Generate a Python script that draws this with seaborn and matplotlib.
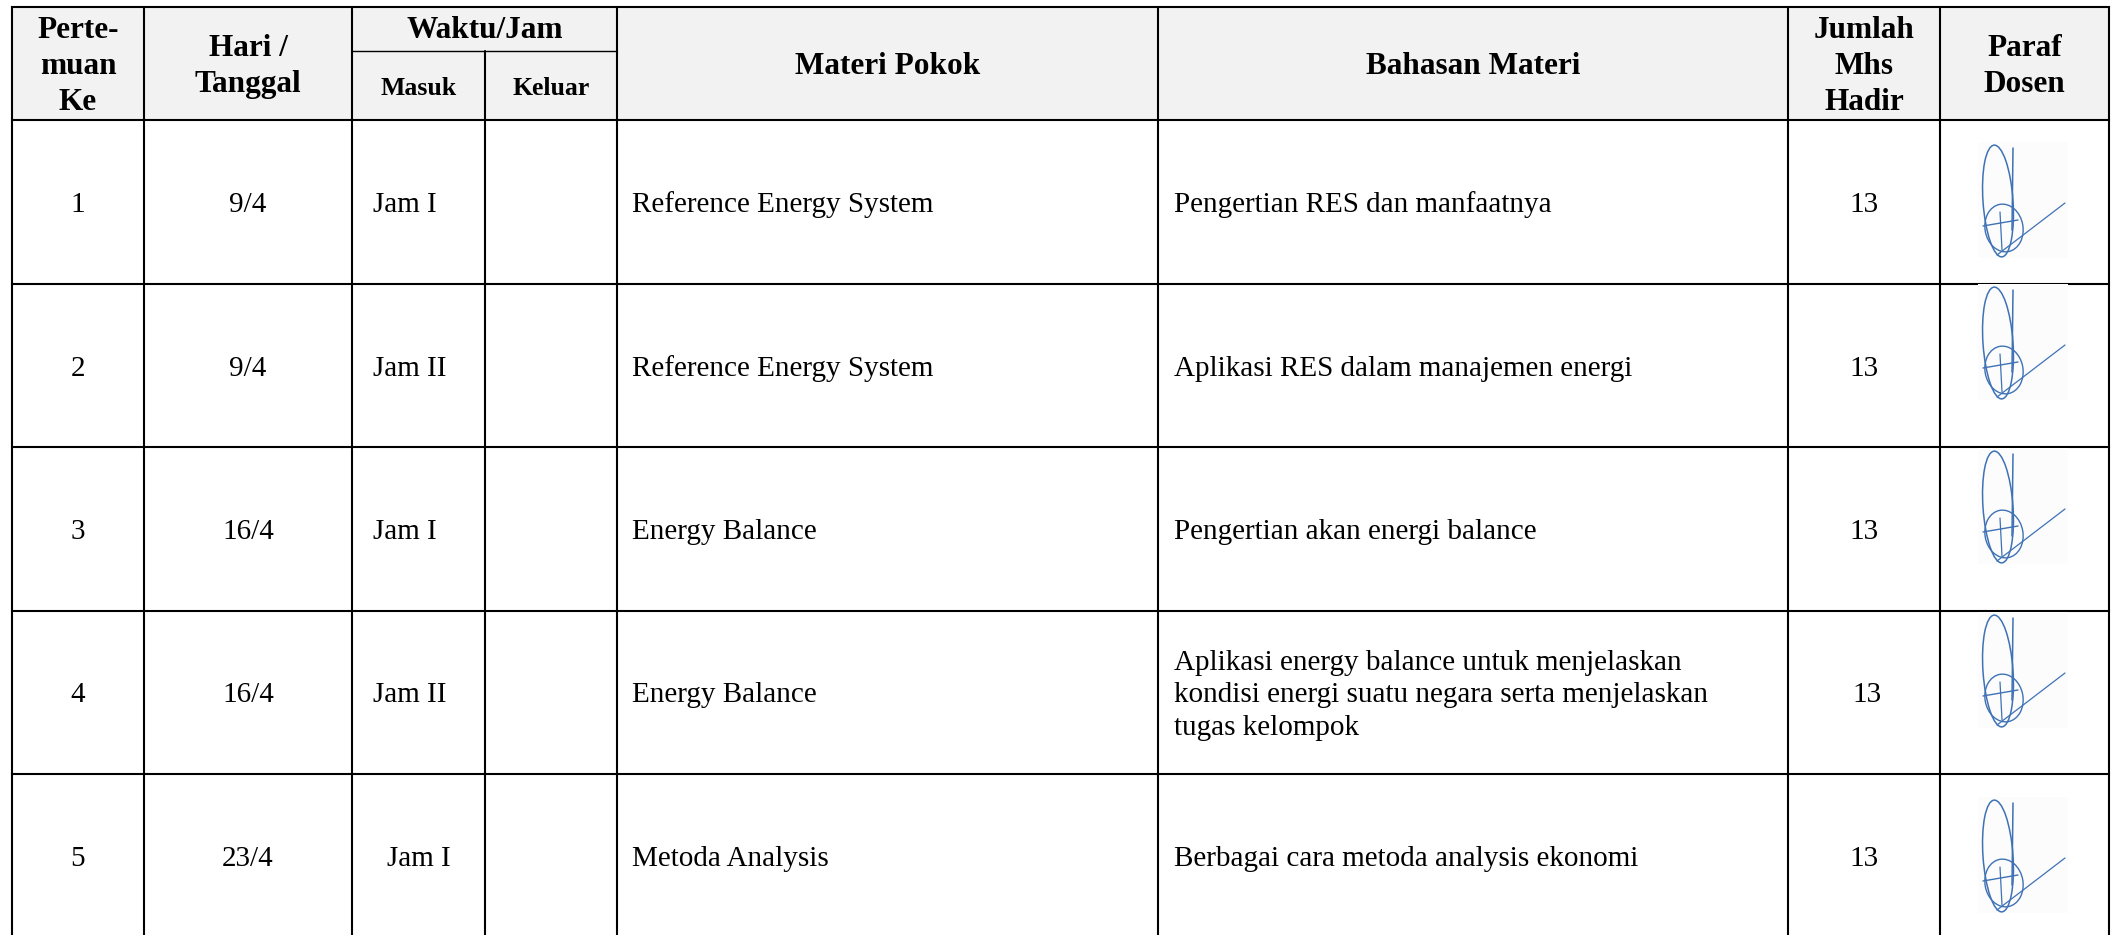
import seaborn as sns
import matplotlib.pyplot as plt
from matplotlib.patches import Rectangle, Ellipse

# table content
header_top = ["Perte-\nmuan\nKe", "Hari /\nTanggal", "Waktu/Jam", "Materi Pokok",
              "Bahasan Materi", "Jumlah\nMhs\nHadir", "Paraf\nDosen"]
header_sub = ["Masuk", "Keluar"]

pertemuan = ["1", "2", "3", "4", "5"]
tanggal = ["9/4", "9/4", "16/4", "16/4", "23/4"]
masuk = ["Jam I", "Jam II", "Jam I", "Jam II", "Jam I"]
keluar = ["", "", "", "", ""]
materi = ["Reference Energy System", "Reference Energy System", "Energy Balance",
          "Energy Balance", "Metoda Analysis"]
bahasan = ["Pengertian RES dan manfaatnya",
           "Aplikasi RES dalam manajemen energi",
           "Pengertian akan energi balance",
           "Aplikasi energy balance untuk menjelaskan\nkondisi energi suatu negara serta menjelaskan\ntugas kelompok",
           "Berbagai cara metoda analysis ekonomi"]
hadir = [13, 13, 13, 13, 13]

# layout (pixel grid of the page)
W, H = 2111, 935
col_x = [12, 144, 352, 485, 617, 1158, 1788, 1940, 2109]
row_y = [7, 120, 284, 447, 611, 774]
sub_y = 51
sig_offset = [22, 0, 1, 1, 23]

sns.set_theme(style="white")
plt.rcParams['font.family'] = ['Liberation Serif', 'DejaVu Serif']

fig = plt.figure(figsize=(W / 100, H / 100), dpi=100)
ax = fig.add_axes([0, 0, 1, 1])
ax.set_xlim(0, W)
ax.set_ylim(H, 0)
ax.axis('off')

# header background
ax.add_patch(Rectangle((col_x[0], row_y[0]), col_x[-1] - col_x[0], row_y[1] - row_y[0],
                       facecolor='#f2f2f2', edgecolor='none', zorder=0))

lw = 1.5
# horizontal lines
for y in row_y:
    ax.plot([col_x[0], col_x[-1]], [y, y], color='black', lw=lw, zorder=2,
            solid_capstyle='projecting')
ax.plot([col_x[2], col_x[4]], [sub_y, sub_y], color='black', lw=1.0, zorder=2)
# vertical lines
for i, x in enumerate(col_x):
    top = sub_y if i == 3 else row_y[0]
    ax.plot([x, x], [top, H], color='black', lw=lw, zorder=2)


def mid(a, b):
    return (a + b) / 2


hkw = dict(fontsize=22.5, fontweight='bold', ha='center', va='center',
           linespacing=1.3, color='black', zorder=3)
hcols = [(0, 1), (1, 2), None, (4, 5), (5, 6), (6, 7), (7, 8)]
for txt, c in zip(header_top, hcols):
    if c is None:
        ax.text(mid(col_x[2], col_x[4]), mid(row_y[0], sub_y) + 2, txt, **hkw)
    else:
        ax.text(mid(col_x[c[0]], col_x[c[1]]), mid(row_y[0], row_y[1]) + 3, txt, **hkw)
skw = dict(hkw, fontsize=18.5)
for j, txt in enumerate(header_sub):
    ax.text(mid(col_x[2 + j], col_x[3 + j]), mid(sub_y, row_y[1]) + 3, txt, **skw)

bkw = dict(fontsize=21, va='center', color='black', linespacing=1.32, zorder=3)


def signature(x0, y0):
    # scanned paraf: light box with blue strokes
    blue = '#3f72b5'
    ax.add_patch(Rectangle((x0, y0), 90, 116, facecolor='#fcfcfc', edgecolor='none', zorder=4))
    ax.add_patch(Ellipse((x0 + 20, y0 + 59), 30, 112, angle=-4, fill=False,
                         edgecolor=blue, lw=1.1, zorder=5))
    ax.add_patch(Ellipse((x0 + 26, y0 + 86), 38, 48, angle=-10, fill=False,
                         edgecolor=blue, lw=1.0, zorder=5))
    ax.plot([x0 + 35, x0 + 34], [y0 + 6, y0 + 88], color=blue, lw=1.1, zorder=5)
    ax.plot([x0 + 19, x0 + 87], [y0 + 113, y0 + 61], color=blue, lw=0.9, zorder=5)
    ax.plot([x0 + 5, x0 + 40], [y0 + 84, y0 + 78], color=blue, lw=1.0, zorder=5)
    ax.plot([x0 + 22, x0 + 24], [y0 + 70, y0 + 108], color=blue, lw=0.9, zorder=5)


for i in range(len(pertemuan)):
    top = row_y[i + 1]
    bot = row_y[i + 2] if i + 2 < len(row_y) else top + 164
    yc = mid(top, bot) + 3
    ax.text(mid(col_x[0], col_x[1]), yc, pertemuan[i], ha='center', **bkw)
    ax.text(mid(col_x[1], col_x[2]), yc, tanggal[i], ha='center', **bkw)
    if i == 4:
        ax.text(mid(col_x[2], col_x[3]), yc, masuk[i], ha='center', **bkw)
    else:
        ax.text(col_x[2] + 21, yc, masuk[i], ha='left', **bkw)
    ax.text(mid(col_x[3], col_x[4]), yc, keluar[i], ha='center', **bkw)
    ax.text(col_x[4] + 15, yc, materi[i], ha='left', **bkw)
    ax.text(col_x[5] + 16, yc, bahasan[i], ha='left', **bkw)
    ax.text(mid(col_x[6], col_x[7]) + (3 if i == 3 else 0), yc, str(hadir[i]), ha='center', **bkw)
    signature(1978, top + sig_offset[i])

fig.savefig('out.png', dpi=100, facecolor='white')
